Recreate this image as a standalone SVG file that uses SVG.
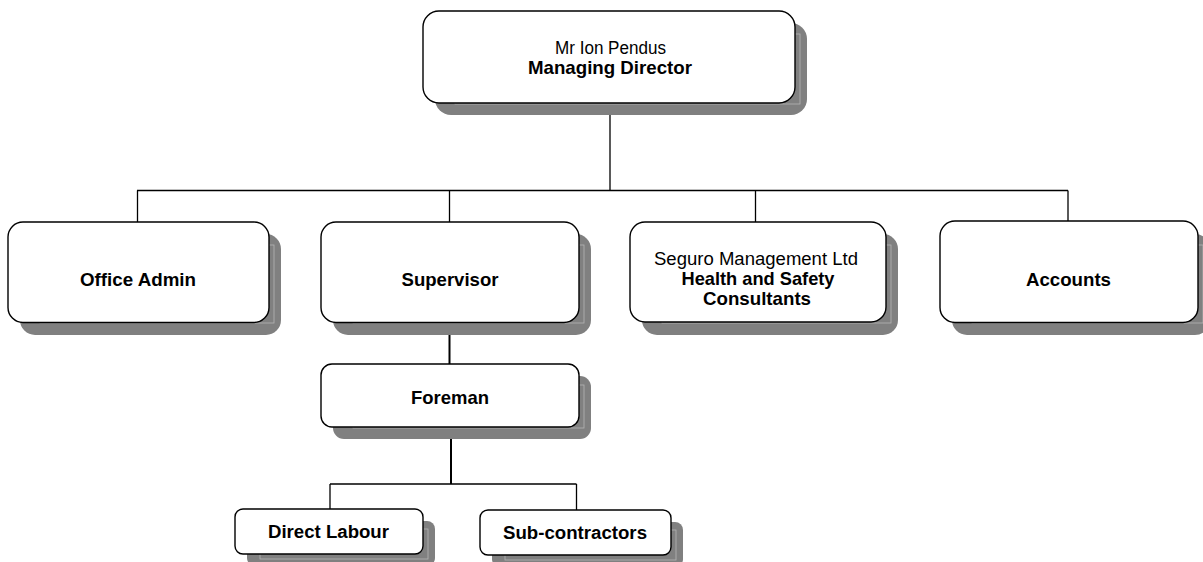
<svg xmlns="http://www.w3.org/2000/svg" width="1203" height="562" viewBox="0 0 1203 562">
<style>
.shadow{fill:#808080;stroke:none}
.hint{fill:none;stroke:#b4b4b4;stroke-width:0.8}
.box{fill:#ffffff;stroke:#000000;stroke-width:1.4}
.t{font-family:"Liberation Sans",Arial,sans-serif;font-size:17.5px;fill:#000;text-anchor:middle}
.b{font-weight:bold;font-size:18.5px}
.s{font-size:17.5px}
.ln{stroke:#000;stroke-width:1.3;fill:none}
.thick{stroke-width:2}
</style>
<rect width="1203" height="562" fill="#ffffff"/>
<g id="connectors">
<line class="ln" x1="610" y1="103" x2="610" y2="190.5"/>
<line class="ln" x1="137" y1="190.5" x2="1068" y2="190.5"/>
<line class="ln" x1="137.5" y1="190.5" x2="137.5" y2="222"/>
<line class="ln" x1="449.5" y1="190.5" x2="449.5" y2="222"/>
<line class="ln" x1="755.5" y1="190.5" x2="755.5" y2="222"/>
<line class="ln" x1="1068" y1="190.5" x2="1068" y2="222"/>
<line class="ln thick" x1="449.5" y1="322" x2="449.5" y2="364"/>
<line class="ln thick" x1="451" y1="427" x2="451" y2="484"/>
<line class="ln" x1="330" y1="484" x2="576.5" y2="484"/>
<line class="ln" x1="330" y1="484" x2="330" y2="509"/>
<line class="ln" x1="576.5" y1="484" x2="576.5" y2="510"/>
</g>
<g id="managing-director">
<rect class="shadow" x="435" y="23" width="372" height="92" rx="16"/>
<rect class="hint" x="455" y="34" width="345" height="70"/>
<rect class="box" x="423" y="11" width="372" height="92" rx="16"/>
<text class="t" x="610.5" y="54" textLength="111" lengthAdjust="spacingAndGlyphs">Mr Ion Pendus</text>
<text class="t b" x="610" y="74" textLength="164" lengthAdjust="spacingAndGlyphs">Managing Director</text>
</g>
<g id="office-admin">
<rect class="shadow" x="20" y="234" width="261" height="101" rx="15"/>
<rect class="hint" x="40" y="245" width="234" height="78"/>
<rect class="box" x="8" y="222" width="261" height="100.5" rx="15"/>
<text class="t b" x="138" y="285.5" textLength="116" lengthAdjust="spacingAndGlyphs">Office Admin</text>
</g>
<g id="supervisor">
<rect class="shadow" x="333" y="234" width="258" height="101" rx="15"/>
<rect class="hint" x="353" y="245" width="231" height="78"/>
<rect class="box" x="321" y="222" width="258" height="100.5" rx="15"/>
<text class="t b" x="450" y="285.5" textLength="97" lengthAdjust="spacingAndGlyphs">Supervisor</text>
</g>
<g id="seguro">
<rect class="shadow" x="642" y="234" width="256" height="101" rx="15"/>
<rect class="hint" x="662" y="245" width="229" height="78"/>
<rect class="box" x="630" y="222" width="256" height="100" rx="15"/>
<text class="t" x="756" y="265" textLength="204" lengthAdjust="spacingAndGlyphs">Seguro Management Ltd</text>
<text class="t b" x="758" y="285" textLength="153" lengthAdjust="spacingAndGlyphs">Health and Safety</text>
<text class="t b" x="757" y="305" textLength="108" lengthAdjust="spacingAndGlyphs">Consultants</text>
</g>
<g id="accounts">
<rect class="shadow" x="952" y="234" width="258" height="101" rx="15"/>
<rect class="hint" x="972" y="245" width="231" height="78"/>
<rect class="box" x="940" y="221" width="258" height="101.5" rx="15"/>
<text class="t b" x="1068.5" y="285.5" textLength="85" lengthAdjust="spacingAndGlyphs">Accounts</text>
</g>
<g id="foreman">
<rect class="shadow" x="333" y="376" width="258" height="63" rx="11"/>
<rect class="hint" x="353" y="385" width="231" height="43"/>
<rect class="box" x="321" y="364" width="258" height="63" rx="11"/>
<text class="t b" x="450" y="403.5" textLength="78" lengthAdjust="spacingAndGlyphs">Foreman</text>
</g>
<g id="direct-labour">
<rect class="shadow" x="247" y="521" width="188" height="45" rx="8"/>
<rect class="hint" x="260" y="529" width="168" height="30"/>
<rect class="box" x="235" y="509" width="188" height="45" rx="8"/>
<text class="t b s" x="328.5" y="537.5" textLength="121" lengthAdjust="spacingAndGlyphs">Direct Labour</text>
</g>
<g id="sub-contractors">
<rect class="shadow" x="492" y="522" width="191" height="45" rx="8"/>
<rect class="hint" x="505" y="530" width="171" height="30"/>
<rect class="box" x="480" y="510" width="191" height="45" rx="8"/>
<text class="t b s" x="575" y="538.5" textLength="144" lengthAdjust="spacingAndGlyphs">Sub-contractors</text>
</g>
</svg>
